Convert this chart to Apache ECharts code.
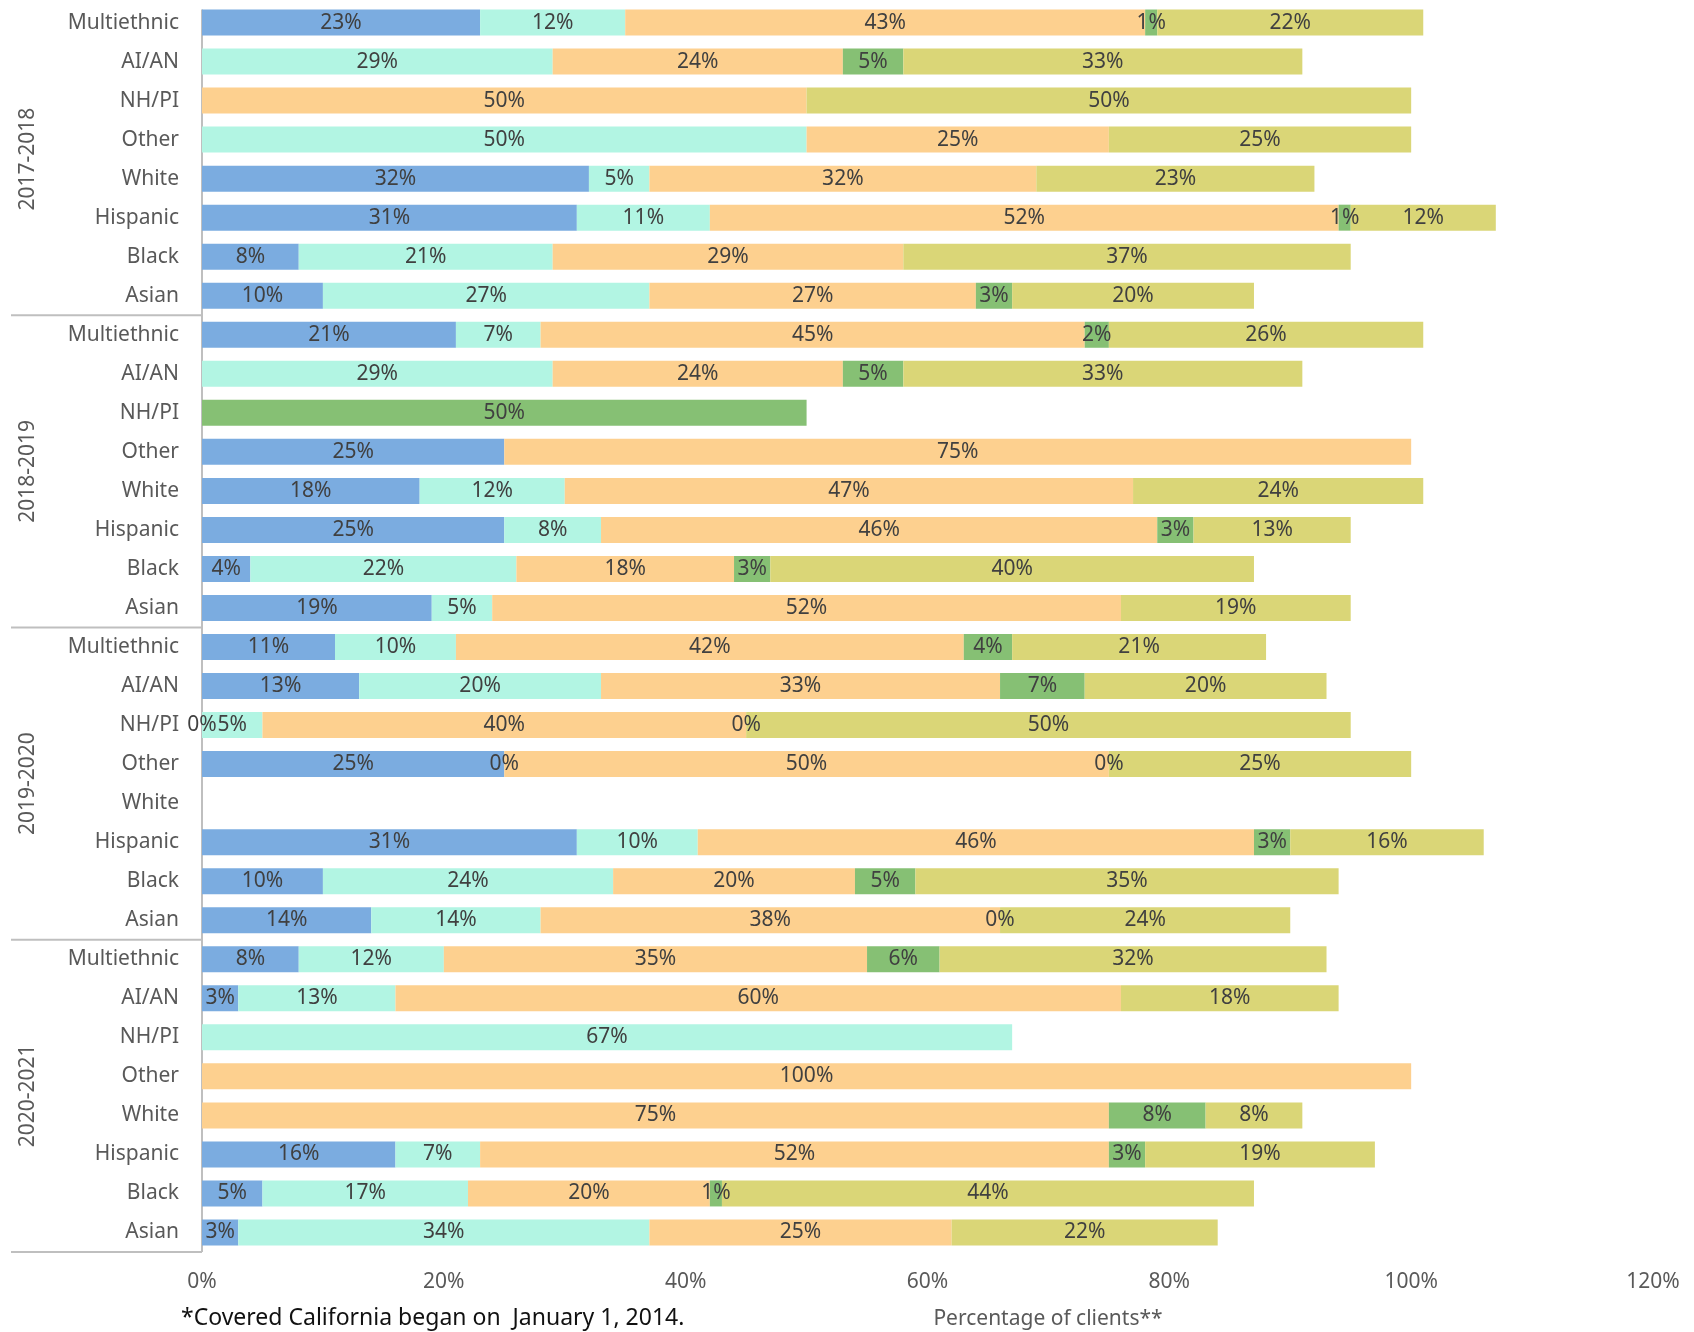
<!DOCTYPE html>
<html>
<head>
<meta charset="utf-8">
<script src="https://cdn.jsdelivr.net/npm/echarts@6/dist/echarts.min.js"></script>
<style>
  html, body { margin: 0; padding: 0; background: #fff; }
  #chart { width: 1694px; height: 1332px; }
</style>
</head>
<body>
<div id="chart"></div>
<script>
// ---- Data ----
const groups = ['2017-2018', '2018-2019', '2019-2020', '2020-2021'];
const races = ['Multiethnic', 'AI/AN', 'NH/PI', 'Other', 'White', 'Hispanic', 'Black', 'Asian'];
const xTickMin = 0, xTickMax = 120, xTickStep = 20;

// values per series, 8 races per group, groups in order 2017-2018 ... 2020-2021
const blueVals = [
  23, null, null, null, 32, 31, 8, 10,
  21, null, null, 25, 18, 25, 4, 19,
  11, 13, 0, 25, null, 31, 10, 14,
  8, 3, null, null, null, 16, 5, 3
];
const mintVals = [
  12, 29, null, 50, 5, 11, 21, 27,
  7, 29, null, null, 12, 8, 22, 5,
  10, 20, 5, 0, null, 10, 24, 14,
  12, 13, 67, null, null, 7, 17, 34
];
const peachVals = [
  43, 24, 50, 25, 32, 52, 29, 27,
  45, 24, null, 75, 47, 46, 18, 52,
  42, 33, 40, 50, null, 46, 20, 38,
  35, 60, null, 100, 75, 52, 20, 25
];
const greenVals = [
  1, 5, null, null, null, 1, null, 3,
  2, 5, 50, null, null, 3, 3, null,
  4, 7, 0, 0, null, 3, 5, 0,
  6, null, null, null, 8, 3, 1, null
];
const oliveVals = [
  22, 33, 50, 25, 23, 12, 37, 20,
  26, 33, null, null, 24, 13, 40, 19,
  21, 20, 50, 25, null, 16, 35, 24,
  32, 18, null, null, 8, 19, 44, 22
];
const seriesColors = ['#7BACE0', '#B2F5E3', '#FDD08F', '#86C074', '#DAD677'];

// ---- Build ----
const FONT = 'Noto Sans';
const yKeys = [];
groups.forEach(g => races.forEach(r => yKeys.push(g + '|' + r)));

const allVals = [blueVals, mintVals, peachVals, greenVals, oliveVals];
const series = allVals.map((vals, i) => ({
  type: 'bar',
  stack: 'total',
  barWidth: 26,
  data: vals,
  itemStyle: { color: seriesColors[i] },
  label: {
    show: true,
    position: 'inside',
    color: '#404040',
    fontSize: 21,
    fontFamily: FONT,
    formatter: p => (p.value == null ? '' : p.value + '%')
  },
  emphasis: { disabled: true }
}));

const chart = echarts.init(document.getElementById('chart'), null, { renderer: 'canvas' });
const option = {
  animation: false,
  backgroundColor: '#ffffff',
  grid: { left: 202, right: 41, top: 3, bottom: 80, containLabel: false },
  xAxis: {
    type: 'value',
    min: xTickMin, max: xTickMax, interval: xTickStep,
    axisLine: { show: false },
    axisTick: { show: false },
    splitLine: { show: false },
    axisLabel: {
      formatter: '{value}%', color: '#595959', fontSize: 21, fontFamily: FONT, margin: 20
    }
  },
  yAxis: {
    type: 'category',
    inverse: true,
    data: yKeys,
    axisLine: { show: false },
    axisTick: { show: false },
    axisLabel: {
      interval: 0,
      color: '#595959', fontSize: 21, fontFamily: FONT, margin: 23,
      formatter: v => v.split('|')[1]
    }
  },
  series: series
};
chart.setOption(option);

// axis line, separators & group labels positioned through the axis scales
const yOf = i => chart.convertToPixel({ yAxisIndex: 0 }, yKeys[i]);
const x0 = chart.convertToPixel({ xAxisIndex: 0 }, 0);
const band = yOf(1) - yOf(0);
const elements = [];
const yTopLine = yOf(0) - 13;
const yBottomLine = yOf(yKeys.length - 1) + band / 2;
elements.push({
  type: 'line',
  shape: { x1: x0, y1: yTopLine, x2: x0, y2: yBottomLine },
  style: { stroke: '#BFBFBF', lineWidth: 2 },
  silent: true
});
groups.forEach((g, gi) => {
  const first = gi * races.length, last = first + races.length - 1;
  const yb = yOf(last) + band / 2;
  elements.push({
    type: 'line',
    shape: { x1: 11, y1: yb, x2: x0, y2: yb },
    style: { stroke: '#BFBFBF', lineWidth: 2 },
    silent: true
  });
  const yc = (yOf(first) + yOf(last)) / 2;
  elements.push({
    type: 'text',
    x: 28, y: yc,
    rotation: Math.PI / 2,
    style: {
      text: g, fill: '#595959', fontSize: 21, fontFamily: FONT,
      align: 'center', verticalAlign: 'middle'
    },
    silent: true
  });
});
elements.push({
  type: 'text', x: 181, y: 1318,
  style: {
    text: '*Covered California began on  January 1, 2014.', fill: '#111111',
    fontSize: 23, fontFamily: FONT, align: 'left', verticalAlign: 'middle'
  }
});
elements.push({
  type: 'text', x: 1048, y: 1319,
  style: {
    text: 'Percentage of clients**', fill: '#595959',
    fontSize: 21, fontFamily: FONT, align: 'center', verticalAlign: 'middle'
  }
});
chart.setOption({ graphic: { elements: elements } });
</script>
</body>
</html>
